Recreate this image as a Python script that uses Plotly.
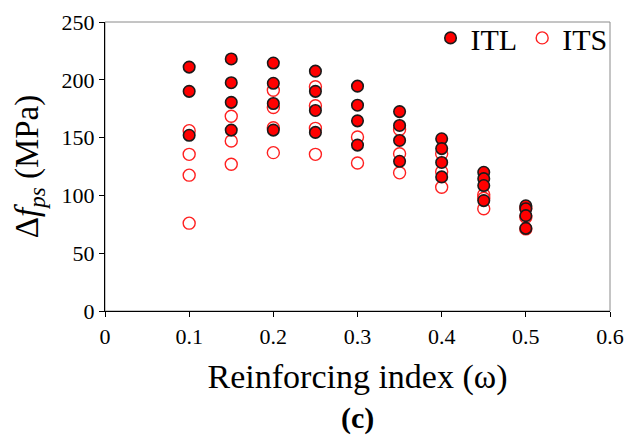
import plotly.graph_objects as go

# Reinforcing index values and stress increase (MPa) for the two tendon layouts
itl_x = [0.10, 0.10, 0.10,
         0.15, 0.15, 0.15, 0.15,
         0.20, 0.20, 0.20, 0.20,
         0.25, 0.25, 0.25, 0.25,
         0.30, 0.30, 0.30, 0.30,
         0.35, 0.35, 0.35, 0.35,
         0.40, 0.40, 0.40, 0.40,
         0.45, 0.45, 0.45, 0.45,
         0.50, 0.50, 0.50, 0.50]
itl_y = [211, 190, 152,
         218, 197.5, 180.5, 156.5,
         214.5, 197, 179.5, 156.5,
         207.5, 190, 173.5, 154.5,
         194.5, 178, 164.5, 143.5,
         172.5, 160.5, 147.5, 129.5,
         149, 140.5, 128.5, 116,
         120, 114.5, 108.5, 95.5,
         91, 88.5, 82.5, 71.5]

its_x = [0.10, 0.10, 0.10, 0.10,
         0.15, 0.15, 0.15,
         0.20, 0.20, 0.20, 0.20,
         0.25, 0.25, 0.25, 0.25,
         0.30, 0.30,
         0.35, 0.35, 0.35,
         0.40, 0.40, 0.40,
         0.45, 0.45, 0.45,
         0.50, 0.50, 0.50]
its_y = [156, 135.5, 117.5, 76,
         168.5, 147, 127,
         191, 176, 158.5, 137,
         194, 177.5, 158, 135.5,
         150.5, 128,
         157, 136, 119.5,
         136, 120.5, 107,
         100.5, 97.5, 88.5,
         89, 81, 71]

x_ticks = [0, 0.1, 0.2, 0.3, 0.4, 0.5, 0.6]
x_tick_text = ["0", "0.1", "0.2", "0.3", "0.4", "0.5", "0.6"]
y_ticks = [0, 50, 100, 150, 200, 250]

SERIF = "Liberation Serif, Times New Roman, serif"

fig = go.Figure()
fig.add_trace(go.Scatter(
    x=its_x, y=its_y, mode="markers", name="ITS",
    marker=dict(symbol="circle-open", size=12, color="#ff2020",
                line=dict(width=1.4, color="#ff2020")),
))
fig.add_trace(go.Scatter(
    x=itl_x, y=itl_y, mode="markers", name="ITL",
    marker=dict(symbol="circle", size=11.5, color="#ff0000",
                line=dict(width=1.6, color="#1a1a1a")),
))

# thin grey frame on the top and right of the plotting area
fig.add_shape(type="rect", xref="paper", yref="paper", x0=0, y0=0, x1=1, y1=1,
              line=dict(color="#8a8a8a", width=1), layer="below")

fig.update_layout(
    width=627, height=442,
    margin=dict(l=105, r=17, t=18, b=131),
    paper_bgcolor="white", plot_bgcolor="white",
    font=dict(family=SERIF, color="black"),
    showlegend=True,
    legend=dict(orientation="h", x=1.005, xanchor="right", y=1.035, yanchor="top",
                traceorder="reversed", font=dict(size=30, family=SERIF),
                bgcolor="rgba(0,0,0,0)", itemwidth=30, tracegroupgap=0),
    annotations=[dict(text="<b>(c)</b>", xref="paper", yref="paper",
                      x=0.5, y=-0.37, xanchor="center", yanchor="middle",
                      showarrow=False, font=dict(size=30, family=SERIF))],
)
fig.update_xaxes(
    range=[0, 0.6], tickvals=x_ticks, ticktext=x_tick_text,
    automargin=False,
    showgrid=False, zeroline=False,
    showline=True, linecolor="black", linewidth=1.3,
    ticks="outside", ticklen=5, tickwidth=1.3, tickcolor="black",
    tickfont=dict(size=22, family=SERIF),
    title=dict(text="Reinforcing index (ω)", font=dict(size=34, family=SERIF), standoff=16),
)
fig.update_yaxes(
    range=[0, 250], tickvals=y_ticks,
    automargin=False,
    showgrid=False, zeroline=False,
    showline=True, linecolor="black", linewidth=1.3,
    ticks="outside", ticklen=5, tickwidth=1.3, tickcolor="black",
    tickfont=dict(size=22, family=SERIF),
    title=dict(text="Δ<i>f</i><sub><i>ps</i></sub> (MPa)", font=dict(size=33, family=SERIF), standoff=12),
)

fig.write_html("out.html")
